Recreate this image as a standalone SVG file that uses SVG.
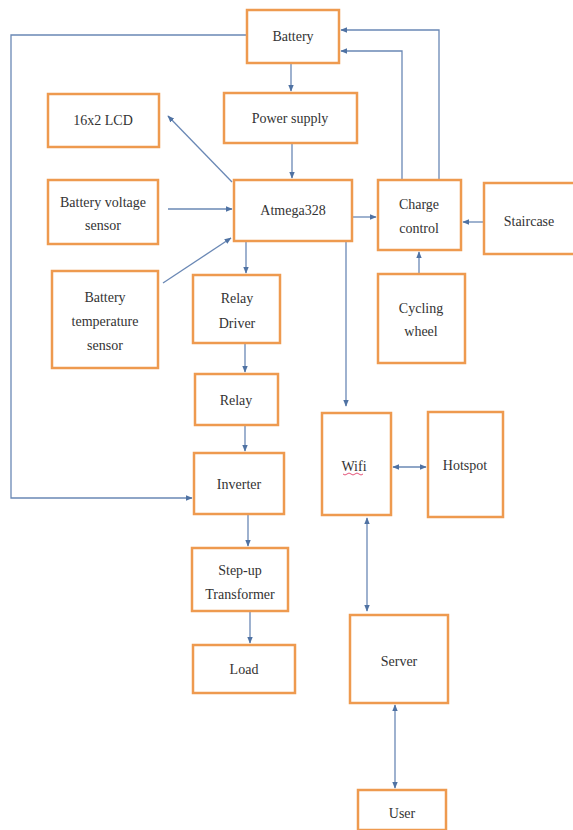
<svg xmlns="http://www.w3.org/2000/svg" width="573" height="830" viewBox="0 0 573 830">
<defs>
<marker id="ah" viewBox="0 0 10 10" refX="9" refY="5" markerWidth="7" markerHeight="7" orient="auto-start-reverse" markerUnits="userSpaceOnUse">
<path d="M0,1 L10,5 L0,9 z" fill="#4F72A3"/>
</marker>
<style>
.box{fill:#ffffff;stroke:#EE9A4F;stroke-width:2.5}
.t{font-size:14px;fill:#333333;text-anchor:middle}
.c{fill:none;stroke:#6A88B5;stroke-width:1.3}
</style>
</defs>
<rect width="573" height="830" fill="#ffffff"/>
<g id="connectors">
<path class="c" d="M291,63 V91" marker-end="url(#ah)"/>
<path class="c" d="M292,143 V178" marker-end="url(#ah)"/>
<path class="c" d="M232,182 L168,116" marker-end="url(#ah)"/>
<path class="c" d="M168,209 H232" marker-end="url(#ah)"/>
<path class="c" d="M163,283 L231,238" marker-end="url(#ah)"/>
<path class="c" d="M246,241 V273" marker-end="url(#ah)"/>
<path class="c" d="M245,343 V372" marker-end="url(#ah)"/>
<path class="c" d="M245,425 V451" marker-end="url(#ah)"/>
<path class="c" d="M247,35 H11 V498 H192" marker-end="url(#ah)"/>
<path class="c" d="M248,514 V546" marker-end="url(#ah)"/>
<path class="c" d="M250,611 V643" marker-end="url(#ah)"/>
<path class="c" d="M352,217 H376" marker-end="url(#ah)"/>
<path class="c" d="M484,222 H463" marker-end="url(#ah)"/>
<path class="c" d="M419,274 V252" marker-end="url(#ah)"/>
<path class="c" d="M402,180 V51 H341" marker-end="url(#ah)"/>
<path class="c" d="M439,180 V30 H341" marker-end="url(#ah)"/>
<path class="c" d="M346,241 V406" marker-end="url(#ah)"/>
<path class="c" d="M393,467 H426" marker-start="url(#ah)" marker-end="url(#ah)"/>
<path class="c" d="M367,518 V611" marker-start="url(#ah)" marker-end="url(#ah)"/>
<path class="c" d="M395,705 V788" marker-start="url(#ah)" marker-end="url(#ah)"/>
</g>
<g font-family="Liberation Serif, Times New Roman, DejaVu Serif, serif">
<g id="battery"><rect class="box" x="247" y="10" width="92" height="53"/><text class="t" x="293" y="41">Battery</text></g>
<g id="power-supply"><rect class="box" x="224" y="93" width="133" height="50"/><text class="t" x="290" y="123">Power supply</text></g>
<g id="lcd"><rect class="box" x="48" y="94" width="111" height="53"/><text class="t" x="103" y="125">16x2 LCD</text></g>
<g id="atmega"><rect class="box" x="234" y="180" width="118" height="61"/><text class="t" x="293" y="215">Atmega328</text></g>
<g id="voltage-sensor"><rect class="box" x="48" y="180" width="110" height="64"/><text class="t" x="103" y="207">Battery voltage</text><text class="t" x="103" y="230">sensor</text></g>
<g id="temp-sensor"><rect class="box" x="52" y="271" width="106" height="97"/><text class="t" x="105" y="302">Battery</text><text class="t" x="105" y="326">temperature</text><text class="t" x="105" y="350">sensor</text></g>
<g id="relay-driver"><rect class="box" x="193" y="275" width="87" height="68"/><text class="t" x="237" y="303">Relay</text><text class="t" x="237" y="328">Driver</text></g>
<g id="relay"><rect class="box" x="195" y="374" width="83" height="51"/><text class="t" x="236" y="405">Relay</text></g>
<g id="inverter"><rect class="box" x="194" y="453" width="90" height="61"/><text class="t" x="239" y="489">Inverter</text></g>
<g id="step-up"><rect class="box" x="192" y="548" width="96" height="63"/><text class="t" x="240" y="575">Step-up</text><text class="t" x="240" y="599">Transformer</text></g>
<g id="load"><rect class="box" x="193" y="645" width="102" height="48"/><text class="t" x="244" y="674">Load</text></g>
<g id="charge-control"><rect class="box" x="378" y="180" width="83" height="70"/><text class="t" x="419" y="209">Charge</text><text class="t" x="419" y="233">control</text></g>
<g id="staircase"><rect class="box" x="484" y="183" width="95" height="71"/><text class="t" x="529" y="226">Staircase</text></g>
<g id="cycling-wheel"><rect class="box" x="378" y="274" width="87" height="89"/><text class="t" x="421" y="313">Cycling</text><text class="t" x="421" y="336">wheel</text></g>
<g id="wifi"><rect class="box" x="322" y="413" width="69" height="102"/><text class="t" x="354" y="471">Wifi</text><path d="M343,474 q2,2 4,0 t4,0 t4,0 t4,0 t4,0" fill="none" stroke="#E0406A" stroke-width="0.9"/></g>
<g id="hotspot"><rect class="box" x="428" y="412" width="75" height="105"/><text class="t" x="465" y="470">Hotspot</text></g>
<g id="server"><rect class="box" x="350" y="615" width="98" height="88"/><text class="t" x="399" y="666">Server</text></g>
<g id="user"><rect class="box" x="358" y="790" width="88" height="40"/><text class="t" x="402" y="818">User</text></g>
</g>
</svg>
